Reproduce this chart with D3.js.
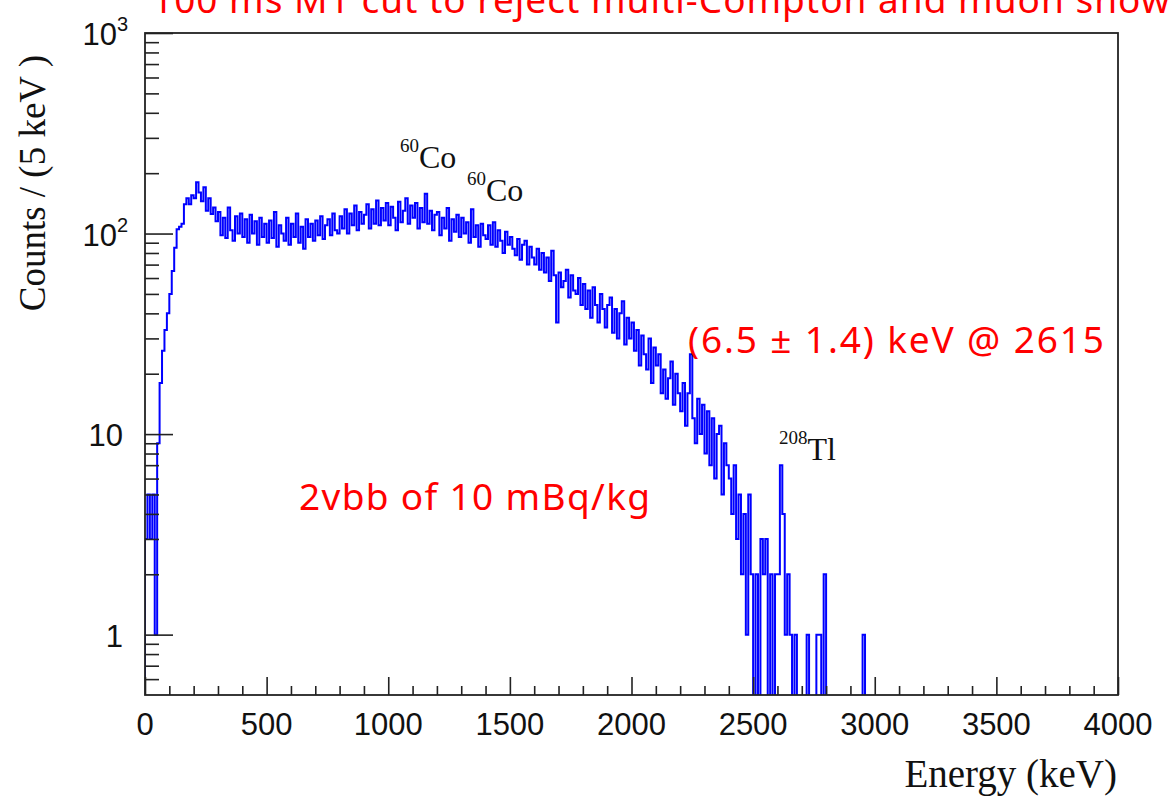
<!DOCTYPE html>
<html>
<head>
<meta charset="utf-8">
<script src="https://cdn.jsdelivr.net/npm/d3@7"></script>
<style>
  html, body { margin: 0; padding: 0; background: #fff; }
  svg { display: block; }
</style>
</head>
<body>
<svg id="chart" width="1168" height="796"></svg>
<script>
// energy spectrum, 10 keV bins starting at 0 keV
const binWidth = 10;
const counts = [
  3, 5, 3, 5, 1, 9, 18, 26, 33, 40,
  50, 65, 85, 105, 108, 112, 140, 150, 140, 155,
  150, 180, 160, 145, 170, 130, 150, 125, 135, 115,
  128, 98, 120, 95, 135, 104, 92, 122, 100, 126,
  96, 118, 90, 124, 100, 115, 88, 120, 96, 112,
  90, 116, 95, 128, 86, 110, 100, 92, 120, 88,
  112, 96, 126, 90, 108, 84, 118, 96, 112, 92,
  116, 98, 122, 94, 110, 118, 98, 126, 104, 100,
  122, 106, 132, 100, 126, 110, 138, 104, 128, 112,
  124, 140, 106, 132, 112, 146, 110, 134, 116, 142,
  110, 136, 120, 104, 144, 114, 130, 150, 112, 138,
  120, 142, 106, 134, 114, 158, 112, 130, 104, 124,
  128, 98, 120, 106, 134, 92, 118, 102, 124, 96,
  120, 100, 114, 90, 132, 96, 110, 86, 112, 98,
  94, 110, 88, 114, 86, 104, 92, 80, 102, 88,
  96, 84, 78, 94, 74, 88, 92, 70, 86, 76,
  70, 84, 66, 80, 64, 76, 58, 82, 62, 36,
  64, 54, 58, 66, 48, 62, 52, 50, 60, 44,
  56, 42, 52, 38, 54, 44, 36, 50, 42, 34,
  44, 48, 32, 42, 30, 40, 46, 28, 38, 30,
  36, 26, 33, 22, 31, 25, 21, 30, 18, 27,
  22, 25, 16, 21, 15, 19, 23, 14, 20, 16,
  13, 18, 11, 16, 25, 12, 9, 15, 10, 14,
  8, 13, 7, 12, 6, 10, 11, 5, 9, 7,
  6, 4, 7, 3, 5, 2, 4, 1, 5, 2,
  0, 2, 0, 3, 2, 3, 0, 2, 0, 2,
  2, 7, 4, 1, 2, 1, 0, 1, 0, 0,
  0, 0, 1, 0, 0, 0, 1, 1, 0, 2,
  0, 0, 0, 0, 0, 0, 0, 0, 0, 0,
  0, 0, 0, 0, 0, 1, 0, 0, 0, 0
];

const xMajor = [0, 500, 1000, 1500, 2000, 2500, 3000, 3500, 4000];
const yMajor = [1, 10, 100, 1000];
const yLabels = [["1", ""], ["10", ""], ["10", "2"], ["10", "3"]];

const svg = d3.select('#chart');
const plotLeft = 145, plotRight = 1118, plotTop = 33, plotBottom = 695;

const x = d3.scaleLinear().domain([0, 4000]).range([plotLeft, plotRight]);
const y = d3.scaleLog().domain([0.5, 1000]).range([plotBottom, plotTop]);

// minor tick values
const xMinor = d3.range(0, 4001, 100).filter(v => v % 500 !== 0);
const yMinor = [];
[0.1, 1, 10, 100].forEach(dec => {
    for (let k = 2; k <= 9; k++) {
        const v = dec * k;
        if (v > 0.5 && v < 1000) yMinor.push(v);
    }
});

const axisColor = '#222';

// histogram step line
svg.append('clipPath').attr('id', 'plotclip')
    .append('rect')
    .attr('x', plotLeft).attr('y', plotTop)
    .attr('width', plotRight - plotLeft).attr('height', plotBottom - plotTop);

const yOf = c => c > 0 ? y(c) : plotBottom + 5;
let path = `M${x(0)},${plotBottom + 5}`;
counts.forEach((c, i) => {
    path += `V${yOf(c)}H${x((i + 1) * binWidth)}`;
});
path += `V${plotBottom + 5}`;

svg.append('path')
    .attr('d', path)
    .attr('fill', 'none')
    .attr('stroke', '#0000ff')
    .attr('stroke-width', 2)
    .attr('clip-path', 'url(#plotclip)');

// axes
const gx = svg.append('g').attr('transform', `translate(0,${plotBottom})`);
gx.call(d3.axisBottom(x).tickValues(xMajor).tickSize(-18).tickFormat(''));
gx.append('g').call(d3.axisBottom(x).tickValues(xMinor).tickSize(-9).tickFormat(''));

const gy = svg.append('g').attr('transform', `translate(${plotLeft},0)`);
gy.call(d3.axisLeft(y).tickValues(yMajor).tickSize(-28).tickFormat(''));
gy.append('g').call(d3.axisLeft(y).tickValues(yMinor).tickSize(-14).tickFormat(''));

svg.selectAll('.domain').remove();
svg.selectAll('.tick line').attr('stroke', axisColor).attr('stroke-width', 1.6);

// frame
svg.append('rect')
    .attr('x', plotLeft).attr('y', plotTop)
    .attr('width', plotRight - plotLeft).attr('height', plotBottom - plotTop)
    .attr('fill', 'none')
    .attr('stroke', axisColor)
    .attr('stroke-width', 1.8);

// tick labels
svg.append('g')
    .selectAll('text')
    .data(xMajor)
    .enter()
    .append('text')
    .attr('x', v => x(v))
    .attr('y', 735)
    .attr('text-anchor', 'middle')
    .attr('font-family', '"Liberation Sans", Arial, sans-serif')
    .attr('font-size', 31)
    .attr('fill', '#111')
    .text(v => v);

const yl = svg.append('g')
    .selectAll('text')
    .data(yMajor)
    .enter()
    .append('text')
    .attr('x', (v, i) => yLabels[i][1] ? 128 : 123)
    .attr('y', v => y(v) + 12)
    .attr('text-anchor', 'end')
    .attr('font-family', '"Liberation Sans", Arial, sans-serif')
    .attr('font-size', 31)
    .attr('fill', '#111');
yl.append('tspan').text((v, i) => yLabels[i][0]);
yl.append('tspan')
    .attr('dy', -14)
    .attr('font-size', 20)
    .text((v, i) => yLabels[i][1]);

// axis titles
svg.append('text')
    .attr('x', 1117)
    .attr('y', 787)
    .attr('text-anchor', 'end')
    .attr('font-family', '"Liberation Serif", "Times New Roman", serif')
    .attr('font-size', 39)
    .attr('fill', '#111')
    .text('Energy (keV)');

svg.append('text')
    .attr('transform', 'translate(45,55) rotate(-90)')
    .attr('text-anchor', 'end')
    .attr('font-family', '"Liberation Serif", "Times New Roman", serif')
    .attr('font-size', 37)
    .attr('fill', '#111')
    .text('Counts / (5 keV )');

// isotope labels
const isotopes = [
    { mass: '60', name: 'Co', x: 400, y: 168 },
    { mass: '60', name: 'Co', x: 467, y: 201 },
    { mass: '208', name: 'Tl', x: 779, y: 460 }
];
isotopes.forEach(p => {
    const t = svg.append('text')
        .attr('x', p.x)
        .attr('y', p.y)
        .attr('font-family', '"Liberation Serif", "Times New Roman", serif')
        .attr('fill', '#111');
    t.append('tspan').attr('font-size', 19).attr('dy', -16).text(p.mass);
    t.append('tspan').attr('font-size', 32).attr('dy', 16).text(p.name);
});

// red notes
const notes = [
    { text: '100 ms M1 cut to reject multi-Compton and muon showers', x: 152, y: 13, len: null },
    { text: '(6.5 ± 1.4) keV @ 2615', x: 688, y: 353, len: 416 },
    { text: '2vbb of 10 mBq/kg', x: 299, y: 510, len: 351 }
];
svg.append('g')
    .selectAll('text')
    .data(notes)
    .enter()
    .append('text')
    .attr('x', n => n.x)
    .attr('y', n => n.y)
    .attr('font-family', '"Noto Sans", sans-serif')
    .attr('font-size', 37)
    .attr('letter-spacing', n => n.len ? null : 1)
    .attr('textLength', n => n.len)
    .attr('lengthAdjust', 'spacing')
    .attr('fill', '#ff0000')
    .text(n => n.text);
</script>
</body>
</html>
